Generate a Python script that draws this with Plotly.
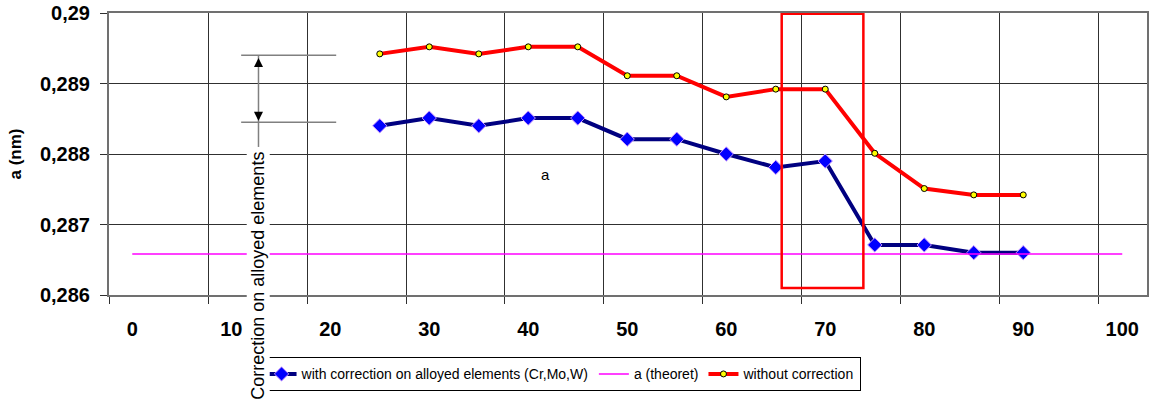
import plotly.graph_objects as go

# ---- data ----
x_vals = [25, 30, 35, 40, 45, 50, 55, 60, 65, 70, 75, 80, 85, 90]
with_corr = [0.28840, 0.28851, 0.28840, 0.28851, 0.28851, 0.28821, 0.28821,
             0.28800, 0.28781, 0.28790, 0.28671, 0.28671, 0.28660, 0.28660]
without_corr = [0.28942, 0.28952, 0.28942, 0.28952, 0.28952, 0.28911, 0.28911,
                0.28881, 0.28892, 0.28892, 0.28801, 0.28751, 0.28742, 0.28742]
theo_x = [0, 100]
theo_y = [0.28658, 0.28658]

x_ticks = [0, 10, 20, 30, 40, 50, 60, 70, 80, 90, 100]
y_ticks = [0.286, 0.287, 0.288, 0.289, 0.290]
y_tick_text = ["0,286", "0,287", "0,288", "0,289", "0,29"]

names = ["with correction on alloyed elements (Cr,Mo,W)", "a (theoret)", "without correction"]

# annotation geometry (not data)
X_RANGE = [-2.35, 102.5]
Y_RANGE = [0.286, 0.290]
GRID_OFFSET = -2.35
BOX = dict(x0=65.6, x1=73.85, y0=0.28610, y1=0.28999)
BRACKET_X = [11.0, 20.6]
BRACKET_Y = [0.2894, 0.28845]
ARROW_X = 12.75

FONT = "Liberation Sans, Arial, sans-serif"

fig = go.Figure()
fig.add_trace(go.Scatter(
    x=x_vals, y=with_corr, name=names[0], mode="lines+markers",
    line=dict(color="#000080", width=4),
    marker=dict(symbol="diamond", size=11, color="#0000FF",
                line=dict(color="#CC99FF", width=1)),
))
fig.add_trace(go.Scatter(
    x=theo_x, y=theo_y, name=names[1], mode="lines",
    line=dict(color="#FF00FF", width=1.5),
))
fig.add_trace(go.Scatter(
    x=x_vals, y=without_corr, name=names[2], mode="lines+markers",
    line=dict(color="#FF0000", width=4),
    marker=dict(symbol="circle", size=6, color="#FFFF00",
                line=dict(color="#000000", width=1)),
))

# bracket lines and arrow stem
for yy in BRACKET_Y:
    fig.add_shape(type="line", xref="x", yref="y", x0=BRACKET_X[0], x1=BRACKET_X[1],
                  y0=yy, y1=yy, line=dict(color="#808080", width=1.5))
fig.add_shape(type="line", xref="x", yref="y", x0=ARROW_X, x1=ARROW_X,
              y0=BRACKET_Y[0], y1=0.2881, line=dict(color="#808080", width=1.5))
# red rectangle
fig.add_shape(type="rect", xref="x", yref="y", line=dict(color="#FF0000", width=2.5),
              fillcolor="rgba(0,0,0,0)", **BOX)

# arrowheads
fig.add_annotation(x=ARROW_X, y=BRACKET_Y[0] - 0.00004, ax=ARROW_X, ay=0.28925,
                   xref="x", yref="y", axref="x", ayref="y", text="", showarrow=True,
                   arrowhead=2, arrowsize=1.2, arrowwidth=1.5, arrowcolor="#000000")
fig.add_annotation(x=ARROW_X, y=BRACKET_Y[1] + 0.00002, ax=ARROW_X, ay=0.28860,
                   xref="x", yref="y", axref="x", ayref="y", text="", showarrow=True,
                   arrowhead=2, arrowsize=1.2, arrowwidth=1.5, arrowcolor="#000000")
# rotated label
fig.add_annotation(x=ARROW_X, y=0.28628, xref="x", yref="y", text="Correction on alloyed elements",
                   textangle=-90, showarrow=False, bgcolor="white",
                   font=dict(family=FONT, size=18, color="#000000"))
# "a" label
fig.add_annotation(x=41.7, y=0.28771, xref="x", yref="y", text="a", showarrow=False,
                   font=dict(family=FONT, size=15, color="#000000"))

fig.update_layout(
    width=1149, height=405,
    margin=dict(l=108.5, r=2, t=13.3, b=109.7),
    paper_bgcolor="white", plot_bgcolor="white",
    font=dict(family=FONT, color="#000000"),
    showlegend=True,
    legend=dict(orientation="h", x=0.146, y=-0.221, xanchor="left", yanchor="top",
                bordercolor="#000000", borderwidth=1, bgcolor="white",
                font=dict(family=FONT, size=14, color="#000000"),
                itemwidth=30, tracegroupgap=0),
    xaxis=dict(
        range=X_RANGE, tickmode="array", tickvals=x_ticks, automargin=False,
        showgrid=False, ticks="", zeroline=False, ticklabeloverflow="allow",
        showline=True, linecolor="#707070", linewidth=2, mirror=True,
        tickfont=dict(family=FONT, size=20, weight="bold", color="#000000"),
        ticklabelstandoff=15,
        minor=dict(tick0=GRID_OFFSET, dtick=10, showgrid=True, gridcolor="#303030",
                   gridwidth=1, ticks="outside", ticklen=7, tickcolor="#303030", tickwidth=1),
    ),
    yaxis=dict(
        range=Y_RANGE, tickmode="array", tickvals=y_ticks, ticktext=y_tick_text,
        automargin=False, ticklabeloverflow="allow",
        showgrid=True, gridcolor="#303030", gridwidth=1, zeroline=False,
        ticks="outside", ticklen=7, tickcolor="#303030",
        showline=True, linecolor="#707070", linewidth=2, mirror=True,
        tickfont=dict(family=FONT, size=20, weight="bold", color="#000000"),
        ticklabelstandoff=6,
        title=dict(text="a (nm)", font=dict(family=FONT, size=17, weight="bold", color="#000000"),
                   standoff=14),
    ),
)

# remove the browser's default 8px body margin so the figure fills the window
fig.write_html("out.html", config={"displayModeBar": False},
               post_script="document.body.style.margin='0';")
